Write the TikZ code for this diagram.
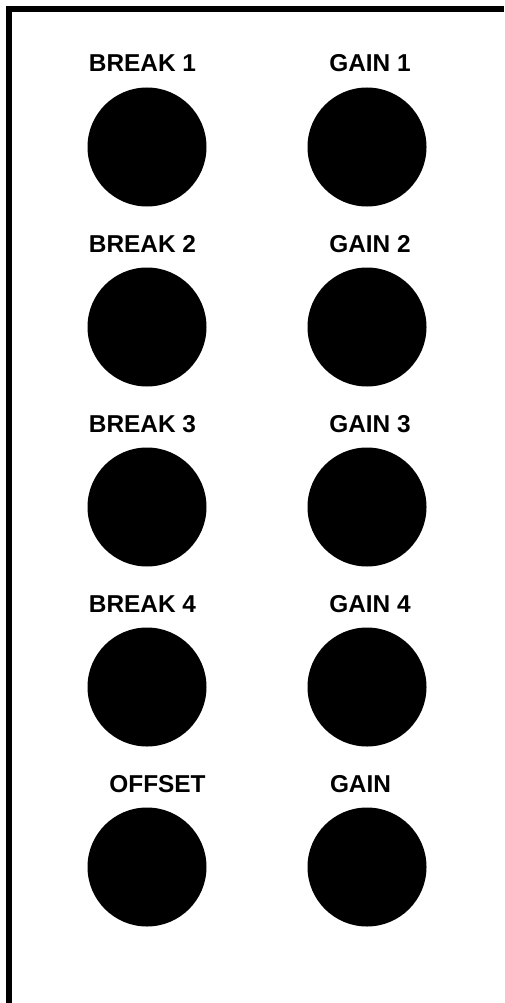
\documentclass[tikz,border=0pt]{standalone}
\usepackage{fontspec}
\setsansfont{Liberation Sans}

\begin{document}
\begin{tikzpicture}
[
    x=1pt, y=-1pt,
    panel/.style={line width=6pt},
    knob/.style={circle, fill=black, minimum size=119pt, inner sep=0pt},
    knob label/.style={font=\sffamily\bfseries\fontsize{24.4}{28}\selectfont, anchor=base, inner sep=0pt},
]
\useasboundingbox (0,0) rectangle (504,1003);
\draw [panel] (9,1003) -- (9,9) -- (504,9);
\foreach \row/\ltext/\lx/\rtext/\rx in
    {1/BREAK 1/142.5/GAIN 1/370,
     2/BREAK 2/142.5/GAIN 2/370,
     3/BREAK 3/142.5/GAIN 3/370,
     4/BREAK 4/142.5/GAIN 4/370,
     5/OFFSET/157.5/GAIN/360.5}
{
    \pgfmathsetmacro{\ky}{147+180*(\row-1)}
    \pgfmathsetmacro{\ly}{72+180*(\row-1)}
    \node [knob] (left knob \row) at (147,\ky) {};
    \node [knob] (right knob \row) at (367,\ky) {};
    \node [knob label] (left label \row) at (\lx,\ly) {\ltext};
    \node [knob label] (right label \row) at (\rx,\ly) {\rtext};
}
\end{tikzpicture}
\end{document}
